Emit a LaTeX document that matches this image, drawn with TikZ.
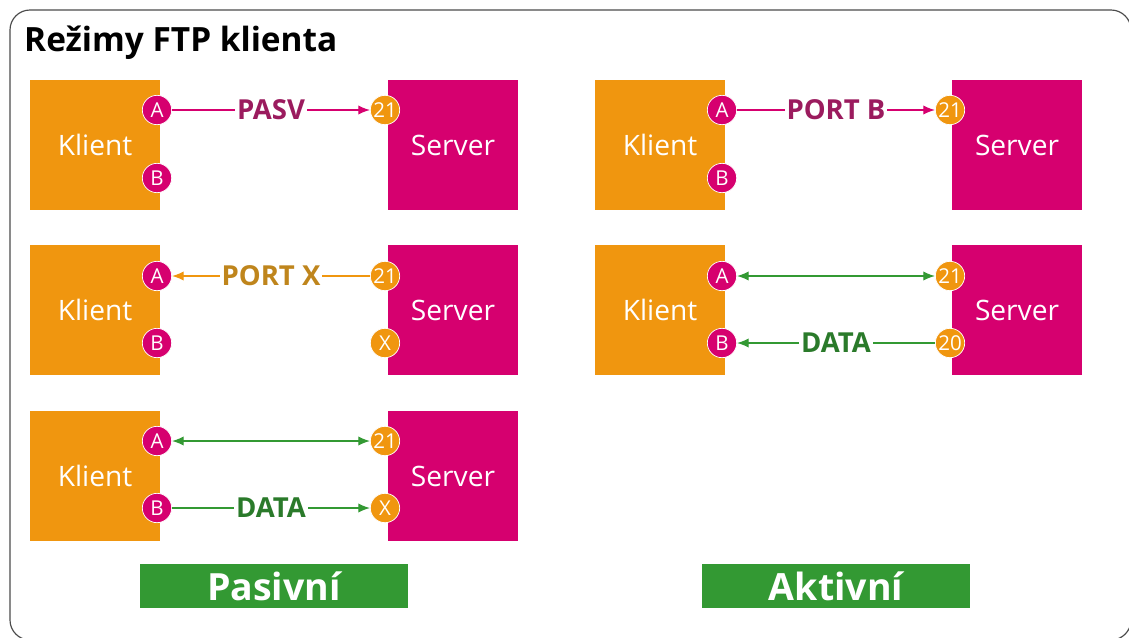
\documentclass[tikz,border=0pt]{standalone}
\usepackage{fontspec}
\setmainfont{Open Sans}
\usetikzlibrary{arrows.meta}
\definecolor{ftporange}{HTML}{F0960F}
\definecolor{ftpmagenta}{HTML}{D6006F}
\definecolor{ftpgreen}{HTML}{339933}
\definecolor{pasvtext}{HTML}{9B1B5E}
\definecolor{porttext}{HTML}{BF851C}
\definecolor{datatext}{HTML}{2A7A2A}
\begin{document}
\begin{tikzpicture}[x=0.03cm, y=-0.03cm,
  frame/.style={draw=black!70, line width=1pt, rounded corners=0.6cm},
  klient/.style={fill=ftporange, text=white, minimum size=3.9cm, inner sep=0pt,
    font=\fontsize{24}{24}\selectfont},
  server/.style={klient, fill=ftpmagenta},
  kport/.style={circle, fill=ftpmagenta, draw=white, line width=0.6pt, text=white,
    minimum size=0.88cm, inner sep=0pt, font=\fontsize{17.5}{17.5}\selectfont},
  sport/.style={kport, fill=ftporange},
  msg/.style={fill=white, inner sep=1.5pt, font=\bfseries\fontsize{23.5}{23.5}\selectfont},
  mode/.style={fill=ftpgreen, text=white, minimum width=8.04cm, minimum height=1.32cm,
    inner sep=0pt, font=\bfseries\fontsize{32}{32}\selectfont},
  tip/.style={line width=1.2pt, -{Latex[length=10pt,width=8pt]}},
  both/.style={line width=1.2pt, {Latex[length=10pt,width=8pt]}-{Latex[length=10pt,width=8pt]}}
]
\useasboundingbox (0,0) rectangle (1129,637);
\draw[frame] (10,10) rectangle (1131,640);
\node[anchor=base west, inner sep=0pt, font=\bfseries\fontsize{28.5}{28.5}\selectfont] (title) at (24,51) {Režimy FTP klienta};

% pasivni rezim
\node[klient] (k1) at (95,145) {Klient};
\node[server] (s1) at (453,145) {Server};
\node[kport] (k1a) at (157,110) {A};
\node[kport] (k1b) at (157,178) {B};
\node[sport] (s1a) at (385,110) {21};
\draw[tip, ftpmagenta] (k1a) -- node[msg, text=pasvtext] {PASV} (s1a);

\node[klient] (k2) at (95,310) {Klient};
\node[server] (s2) at (453,310) {Server};
\node[kport] (k2a) at (157,276) {A};
\node[kport] (k2b) at (157,343) {B};
\node[sport] (s2a) at (385,276) {21};
\node[sport] (s2x) at (385,343) {X};
\draw[tip, ftporange] (s2a) -- node[msg, text=porttext] {PORT X} (k2a);

\node[klient] (k3) at (95,476) {Klient};
\node[server] (s3) at (453,476) {Server};
\node[kport] (k3a) at (157,441) {A};
\node[kport] (k3b) at (157,508) {B};
\node[sport] (s3a) at (385,441) {21};
\node[sport] (s3x) at (385,508) {X};
\draw[both, ftpgreen] (k3a) -- (s3a);
\draw[tip, ftpgreen] (k3b) -- node[msg, text=datatext] {DATA} (s3x);

\node[mode] (pasiv) at (274,586) {Pasivní};

% aktivni rezim
\node[klient] (k4) at (660,145) {Klient};
\node[server] (s4) at (1017,145) {Server};
\node[kport] (k4a) at (722,110) {A};
\node[kport] (k4b) at (722,178) {B};
\node[sport] (s4a) at (950,110) {21};
\draw[tip, ftpmagenta] (k4a) -- node[msg, text=pasvtext] {PORT B} (s4a);

\node[klient] (k5) at (660,310) {Klient};
\node[server] (s5) at (1017,310) {Server};
\node[kport] (k5a) at (722,276) {A};
\node[kport] (k5b) at (722,343) {B};
\node[sport] (s5a) at (950,276) {21};
\node[sport] (s5d) at (950,343) {20};
\draw[both, ftpgreen] (k5a) -- (s5a);
\draw[tip, ftpgreen] (s5d) -- node[msg, text=datatext] {DATA} (k5b);

\node[mode] (aktiv) at (836,586) {Aktivní};
\end{tikzpicture}
\end{document}
